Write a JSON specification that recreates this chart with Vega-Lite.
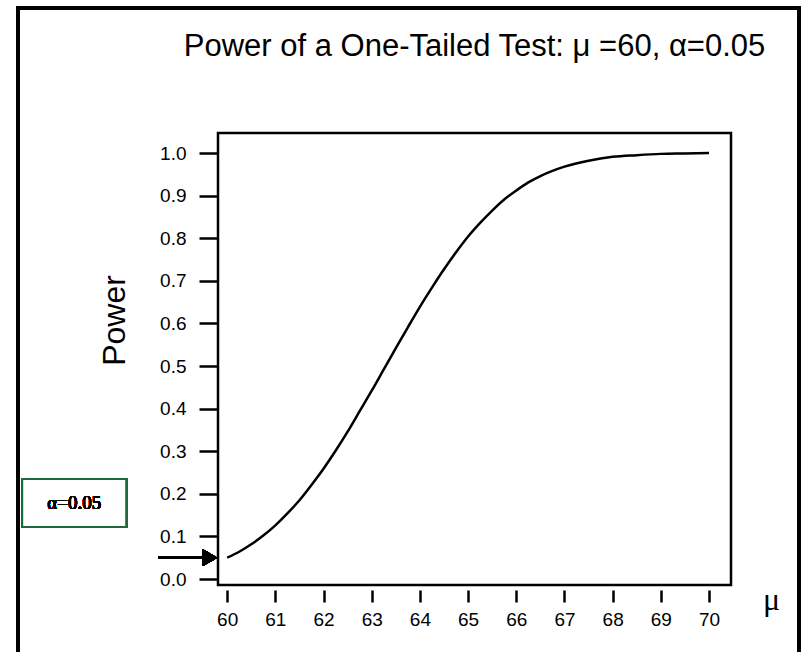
{
  "$schema": "https://vega.github.io/schema/vega-lite/v6.json",
  "autosize": "none",
  "width": 513,
  "height": 452,
  "padding": {"left": 218, "top": 133, "right": 70, "bottom": 67},
  "background": "white",
  "config": {
    "view": {"stroke": "black", "strokeWidth": 2.5},
    "font": "Liberation Sans",
    "axis": {"grid": false, "domain": false, "labelColor": "black", "tickColor": "black", "titleColor": "black", "labelFont": "Liberation Sans", "titleFont": "Liberation Sans", "titleFontWeight": "normal"}
  },
  "title": {"text": "Power of a One-Tailed Test: μ =60, α=0.05", "fontSize": 31, "font": "Liberation Sans", "fontWeight": "normal", "color": "black", "anchor": "middle", "baseline": "alphabetic", "offset": -80},
  "data": {"values": [
    {"mu": 60, "power": 0.050},
    {"mu": 60.25, "power": 0.064},
    {"mu": 60.5, "power": 0.0815},
    {"mu": 60.75, "power": 0.102},
    {"mu": 61, "power": 0.126},
    {"mu": 61.25, "power": 0.154},
    {"mu": 61.5, "power": 0.185},
    {"mu": 61.75, "power": 0.221},
    {"mu": 62, "power": 0.259},
    {"mu": 62.25, "power": 0.301},
    {"mu": 62.5, "power": 0.346},
    {"mu": 62.75, "power": 0.394},
    {"mu": 63, "power": 0.442},
    {"mu": 63.25, "power": 0.492},
    {"mu": 63.5, "power": 0.542},
    {"mu": 63.75, "power": 0.591},
    {"mu": 64, "power": 0.639},
    {"mu": 64.25, "power": 0.684},
    {"mu": 64.5, "power": 0.727},
    {"mu": 64.75, "power": 0.767},
    {"mu": 65, "power": 0.804},
    {"mu": 65.25, "power": 0.836},
    {"mu": 65.5, "power": 0.865},
    {"mu": 65.75, "power": 0.891},
    {"mu": 66, "power": 0.912},
    {"mu": 66.25, "power": 0.931},
    {"mu": 66.5, "power": 0.946},
    {"mu": 66.75, "power": 0.958},
    {"mu": 67, "power": 0.968},
    {"mu": 67.5, "power": 0.982},
    {"mu": 68, "power": 0.991},
    {"mu": 68.5, "power": 0.995},
    {"mu": 69, "power": 0.998},
    {"mu": 69.5, "power": 0.999},
    {"mu": 70, "power": 1.000}
  ]},
  "layer": [
    {
      "mark": {"type": "line", "color": "black", "strokeWidth": 2.5, "interpolate": "monotone"},
      "encoding": {
        "x": {"field": "mu", "type": "quantitative",
          "scale": {"domain": [59.81, 70.456], "nice": false, "zero": false},
          "axis": {"values": [60,61,62,63,64,65,66,67,68,69,70], "offset": 5, "tickSize": 12, "tickWidth": 2.5, "labelFontSize": 19, "labelPadding": 8,
            "title": "μ", "titleFont": "Liberation Serif", "titleFontSize": 32, "titleAnchor": "end", "titleX": 553, "titleY": 19, "titleBaseline": "alphabetic", "titleAlign": "center"}},
        "y": {"field": "power", "type": "quantitative",
          "scale": {"domain": [-0.014, 1.047], "nice": false, "zero": false},
          "axis": {"values": [0,0.1,0.2,0.3,0.4,0.5,0.6,0.7,0.8,0.9,1.0], "format": ".1f", "tickSize": 19, "tickWidth": 2.5, "labelFontSize": 19, "labelPadding": 13,
            "title": "Power", "titleFontSize": 32, "titleAngle": -90, "titleX": -104, "titleY": 187, "titleBaseline": "middle", "titleAlign": "center"}}
      }
    },
    {
      "mark": {"type": "rule", "color": "black", "strokeWidth": 2.5},
      "encoding": {"x": {"datum": 58.57}, "x2": {"datum": 59.5}, "y": {"datum": 0.05}}
    },
    {
      "mark": {"type": "point", "shape": "triangle-right", "filled": true, "color": "black", "size": 280, "opacity": 1},
      "encoding": {"x": {"datum": 59.647}, "y": {"datum": 0.05}}
    },
    {
      "mark": {"type": "rect", "fill": "white", "stroke": "#1d6b3c", "strokeWidth": 2},
      "encoding": {"x": {"datum": 55.747}, "x2": {"datum": 57.905}, "y": {"datum": 0.2347}, "y2": {"datum": 0.122}}
    },
    {
      "mark": {"type": "text", "font": "Liberation Serif", "fontSize": 19, "fontWeight": "normal", "fill": "black", "strokeWidth": 0, "align": "center", "baseline": "middle"},
      "encoding": {"x": {"datum": 56.826}, "y": {"datum": 0.178}, "text": {"value": "α=0.05"}}
    },
    {
      "mark": {"type": "rect", "fill": null, "fillOpacity": 0, "stroke": "black", "strokeWidth": 3},
      "encoding": {"x": {"datum": 55.66}, "x2": {"datum": 71.86}, "y": {"datum": 1.3404}, "y2": {"datum": -0.3}}
    }
  ]
}
